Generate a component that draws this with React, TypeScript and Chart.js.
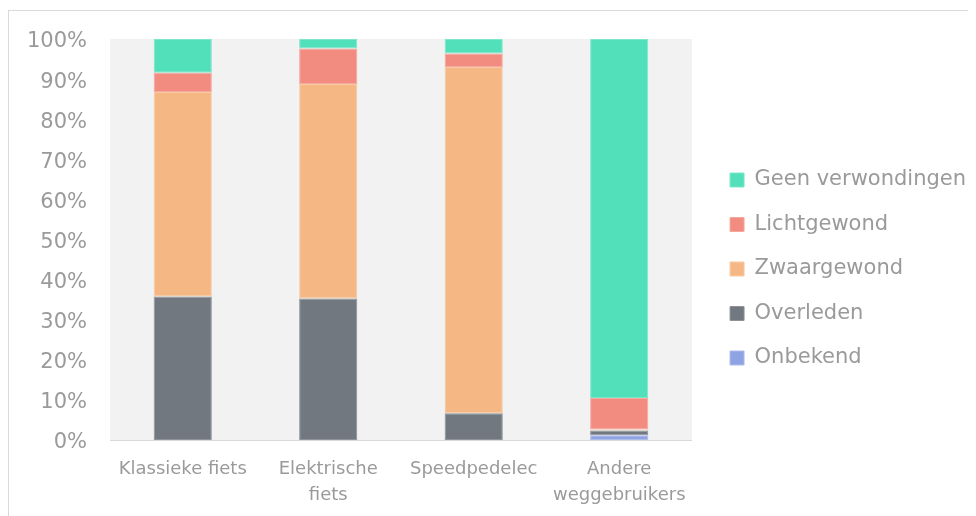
import React, { useEffect, useRef } from "react";
import { Chart, registerables } from "chart.js";

Chart.register(...registerables);

const categories: (string | string[])[] = [
  "Klassieke fiets",
  ["Elektrische", "fiets"],
  "Speedpedelec",
  ["Andere", "weggebruikers"],
];

const onbekend = [0, 0, 0, 1.2];
const overleden = [35.8, 35.3, 6.7, 1.2];
const zwaargewond = [51.0, 53.5, 86.3, 0.2];
const lichtgewond = [4.8, 8.8, 3.4, 7.9];
const geenVerwondingen = [8.4, 2.4, 3.6, 89.5];

const yTicks = [0, 10, 20, 30, 40, 50, 60, 70, 80, 90, 100];

const TEXT = "#9A9A9A";
const FONT = "'DejaVu Sans', 'Verdana', sans-serif";

const plotBg = {
  id: "plotBg",
  beforeDraw(chart: any) {
    const { ctx, chartArea } = chart;
    if (!chartArea) return;
    ctx.save();
    ctx.fillStyle = "#F2F2F2";
    ctx.fillRect(chartArea.left, chartArea.top, chartArea.right - chartArea.left, chartArea.bottom - chartArea.top);
    ctx.restore();
  },
};

export default function App() {
  const ref = useRef<HTMLCanvasElement | null>(null);

  useEffect(() => {
    if (!ref.current) return;
    const mk = (label: string, data: number[], bg: string, border: string) => ({
      label,
      data,
      backgroundColor: bg,
      borderColor: border,
      borderWidth: 1,
      borderSkipped: false as any,
      barPercentage: 0.4,
      categoryPercentage: 1,
    });
    const chart = new Chart(ref.current, {
      type: "bar",
      data: {
        labels: categories as any,
        datasets: [
          mk("Onbekend", onbekend, "#8FA3E2", "#AEBCEA"),
          mk("Overleden", overleden, "#71787F", "#8E9399"),
          mk("Zwaargewond", zwaargewond, "#F5B884", "#F8CAA3"),
          mk("Lichtgewond", lichtgewond, "#F28C80", "#F5A89F"),
          mk("Geen verwondingen", geenVerwondingen, "#52E0BB", "#7DE7CB"),
        ],
      },
      options: {
        animation: false,
        responsive: false,
        maintainAspectRatio: false,
        layout: { padding: { left: 0, right: 0, top: 28, bottom: 0 } },
        plugins: {
          tooltip: { enabled: false },
          legend: {
            position: "right",
            fullSize: false,
            reverse: true,
            maxWidth: 271,
            title: { display: true, text: " ", font: { size: 12, lineHeight: 1 }, padding: { top: 0, bottom: 47 } },
            labels: {
              boxWidth: 14,
              boxHeight: 14,
              padding: 23.5,
              color: TEXT,
              font: { size: 21, family: FONT },
            },
          },
        },
        scales: {
          x: {
            stacked: true,
            grid: { display: false, drawTicks: false },
            border: { display: true, color: "#D9D9D9", width: 1 },
            ticks: {
              color: TEXT,
              padding: 16,
              maxRotation: 0,
              autoSkip: false,
              font: { size: 18, family: FONT, lineHeight: 1.45 },
            },
            afterFit: (s: any) => {
              s.height = 76;
            },
          },
          y: {
            stacked: true,
            min: 0,
            max: 100,
            grid: { display: false, drawTicks: false },
            border: { display: false },
            afterBuildTicks: (s: any) => {
              s.ticks = yTicks.map((v) => ({ value: v }));
            },
            ticks: {
              color: TEXT,
              padding: 23,
              labelOffset: 3,
              font: { size: 21, family: FONT },
              callback: (v: any) => v + "%",
            },
            afterFit: (s: any) => {
              s.width = 101;
              s.paddingTop = 0;
              s.paddingBottom = 0;
            },
          },
          pad: {
            type: "linear",
            position: "right",
            display: true,
            grid: { display: false, drawTicks: false },
            border: { display: false },
            ticks: { display: false },
            afterFit: (s: any) => {
              s.width = 14.6;
            },
          },
        },
      } as any,
      plugins: [plotBg],
    });
    return () => chart.destroy();
  }, []);

  return (
    <div
      style={{
        marginTop: 2,
        width: 967,
        height: 505,
        borderLeft: "1px solid #D9D9D9",
        borderTop: "1px solid #D9D9D9",
      }}
    >
      <canvas ref={ref} width={967} height={505} style={{ display: "block", width: 967, height: 505 }} />
    </div>
  );
}
